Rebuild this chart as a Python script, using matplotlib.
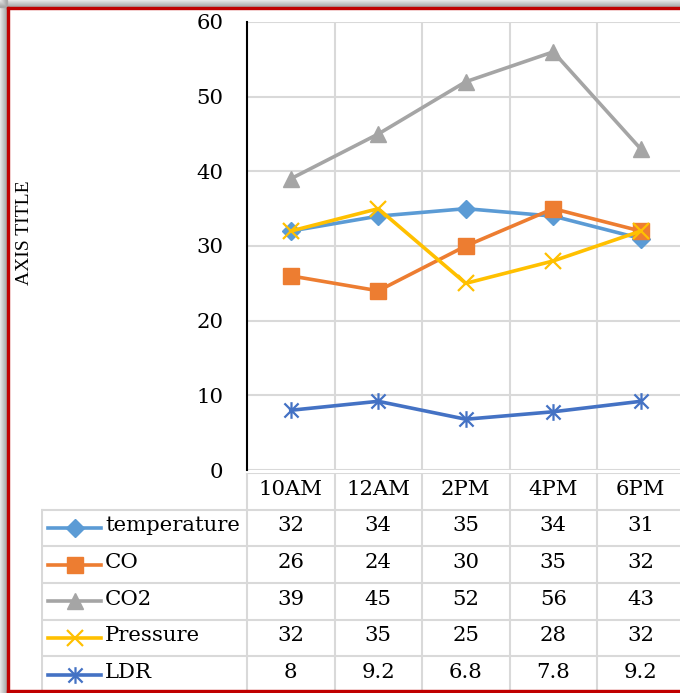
import matplotlib.pyplot as plt
import matplotlib.path as mpath
from matplotlib.patches import Rectangle
from matplotlib.lines import Line2D

# Readings per time slot
times = ["10AM", "12AM", "2PM", "4PM", "6PM"]
temperature = [32, 34, 35, 34, 31]
co = [26, 24, 30, 35, 32]
co2 = [39, 45, 52, 56, 43]
pressure = [32, 35, 25, 28, 32]
ldr = [8, 9.2, 6.8, 7.8, 9.2]
labels = ["temperature", "CO", "CO2", "Pressure", "LDR"]
table_labels = [[str(v) for v in s] for s in (temperature, co, co2, pressure, ldr)]

# Excel-style asterisk marker
P = mpath.Path
star = P([(0, -1), (0, 1), (-0.85, -0.85), (0.85, 0.85), (-0.85, 0.85), (0.85, -0.85)],
         [P.MOVETO, P.LINETO] * 3)

styles = [
    dict(color="#5B9BD5", marker="D", ms=9),
    dict(color="#ED7D31", marker="s", ms=12),
    dict(color="#A5A5A5", marker="^", ms=12),
    dict(color="#FFC000", marker="x", ms=12, mew=1.6),
    dict(color="#4472C4", marker=star, ms=12, mew=1.6),
]

W, H = 680, 693
fig = plt.figure(figsize=(W / 100, H / 100), dpi=100)
fig.patch.set_facecolor("white")

font = "DejaVu Serif"
fs = 15.3
grid_c = "#d9d9d9"
col_w = 87.5  # pixels per category
x0_px = 247   # y axis position


def px(p):
    return -0.5 + (p - x0_px) / col_w


# frame shadow and border
shades = ["#e6e6e6", "#dcdcdc", "#d2d2d2", "#c8c8c8", "#bebebe", "#b4b4b4", "#aaaaaa"]
for i, c in enumerate(shades):
    fig.add_artist(Rectangle((i / W, 0), 1 / W, 1, color=c, transform=fig.transFigure, zorder=0))
    fig.add_artist(Rectangle((0, 1 - (i + 1) / H), 1, 1 / H, color=c, transform=fig.transFigure, zorder=0))
fig.add_artist(Rectangle((7 / W, 0), 2 / W, 1 - 7 / H, color="#c00000", transform=fig.transFigure, zorder=5))
fig.add_artist(Rectangle((7 / W, 1 - 9 / H), 1, 2 / H, color="#c00000", transform=fig.transFigure, zorder=5))
fig.add_artist(Rectangle((7 / W, 0), 1, 3 / H, color="#c00000", transform=fig.transFigure, zorder=5))

# main plot
ax = fig.add_axes([x0_px / W, (H - 470) / H, 437.5 / W, 448 / H])
x = range(len(times))
for vals, st in zip((temperature, co, co2, pressure, ldr), styles):
    ax.plot(x, vals, lw=2.6, color=st["color"], marker=st["marker"], ms=st["ms"],
            mew=st.get("mew", 1), mec=st["color"], mfc=st["color"], clip_on=False, zorder=3)

ax.set_xlim(-0.5, len(times) - 0.5)
ax.set_ylim(0, 60)
ax.set_yticks(range(0, 61, 10))
ax.set_xticks([])
ax.set_xticks([i + 0.5 for i in range(len(times))], minor=True)
ax.grid(axis="y", color=grid_c, lw=1.5)
ax.grid(axis="x", which="minor", color=grid_c, lw=1.5)
ax.set_axisbelow(True)
for s in ["top", "right", "bottom"]:
    ax.spines[s].set_visible(False)
ax.spines["left"].set_linewidth(1.5)
ax.tick_params(axis="y", length=0, pad=17, labelsize=fs)
ax.tick_params(axis="x", which="both", length=0)
for t in ax.get_yticklabels():
    t.set_fontfamily(font)

fig.text(25 / W, 1 - 233 / H, "AXIS TITLE", rotation=90, ha="center", va="center",
         fontsize=14, family="Liberation Serif")

# data table
tab = fig.add_axes([41 / W, 3 / H, (684.5 - 41) / W, 217 / H])
tab.set_xlim(px(41), px(684.5))
tab.set_ylim(5.92, 0)
tab.axis("off")
rows = len(labels) + 1
tab.plot([-0.5, px(684.5)], [0, 0], color=grid_c, lw=1.5)
for r in range(1, rows):
    tab.plot([px(41), px(684.5)], [r, r], color=grid_c, lw=1.5)
tab.plot([px(42), px(42)], [1, rows], color=grid_c, lw=1.5)
for i in range(len(times)):
    tab.plot([i - 0.5, i - 0.5], [0, rows], color=grid_c, lw=1.5)
tab.plot([len(times) - 0.5] * 2, [0, rows], color=grid_c, lw=1.5)

ty = 0.44  # text row offset
for i, t in enumerate(times):
    tab.text(i, ty, t, ha="center", va="center", fontsize=fs, family=font)
for r, (name, st) in enumerate(zip(labels, styles), start=1):
    tab.add_line(Line2D([px(48), px(101)], [r + 0.5, r + 0.5], lw=2.6, color=st["color"]))
    tab.plot([px(74.5)], [r + 0.5], ls="none", marker=st["marker"], ms=st["ms"],
             mew=st.get("mew", 1), color=st["color"])
    tab.text(px(105), r + ty, name, ha="left", va="center", fontsize=fs, family=font)
    for i, v in enumerate(table_labels[r - 1]):
        tab.text(i, r + ty, v, ha="center", va="center", fontsize=fs, family=font)

plt.savefig("out.png", dpi=100)
